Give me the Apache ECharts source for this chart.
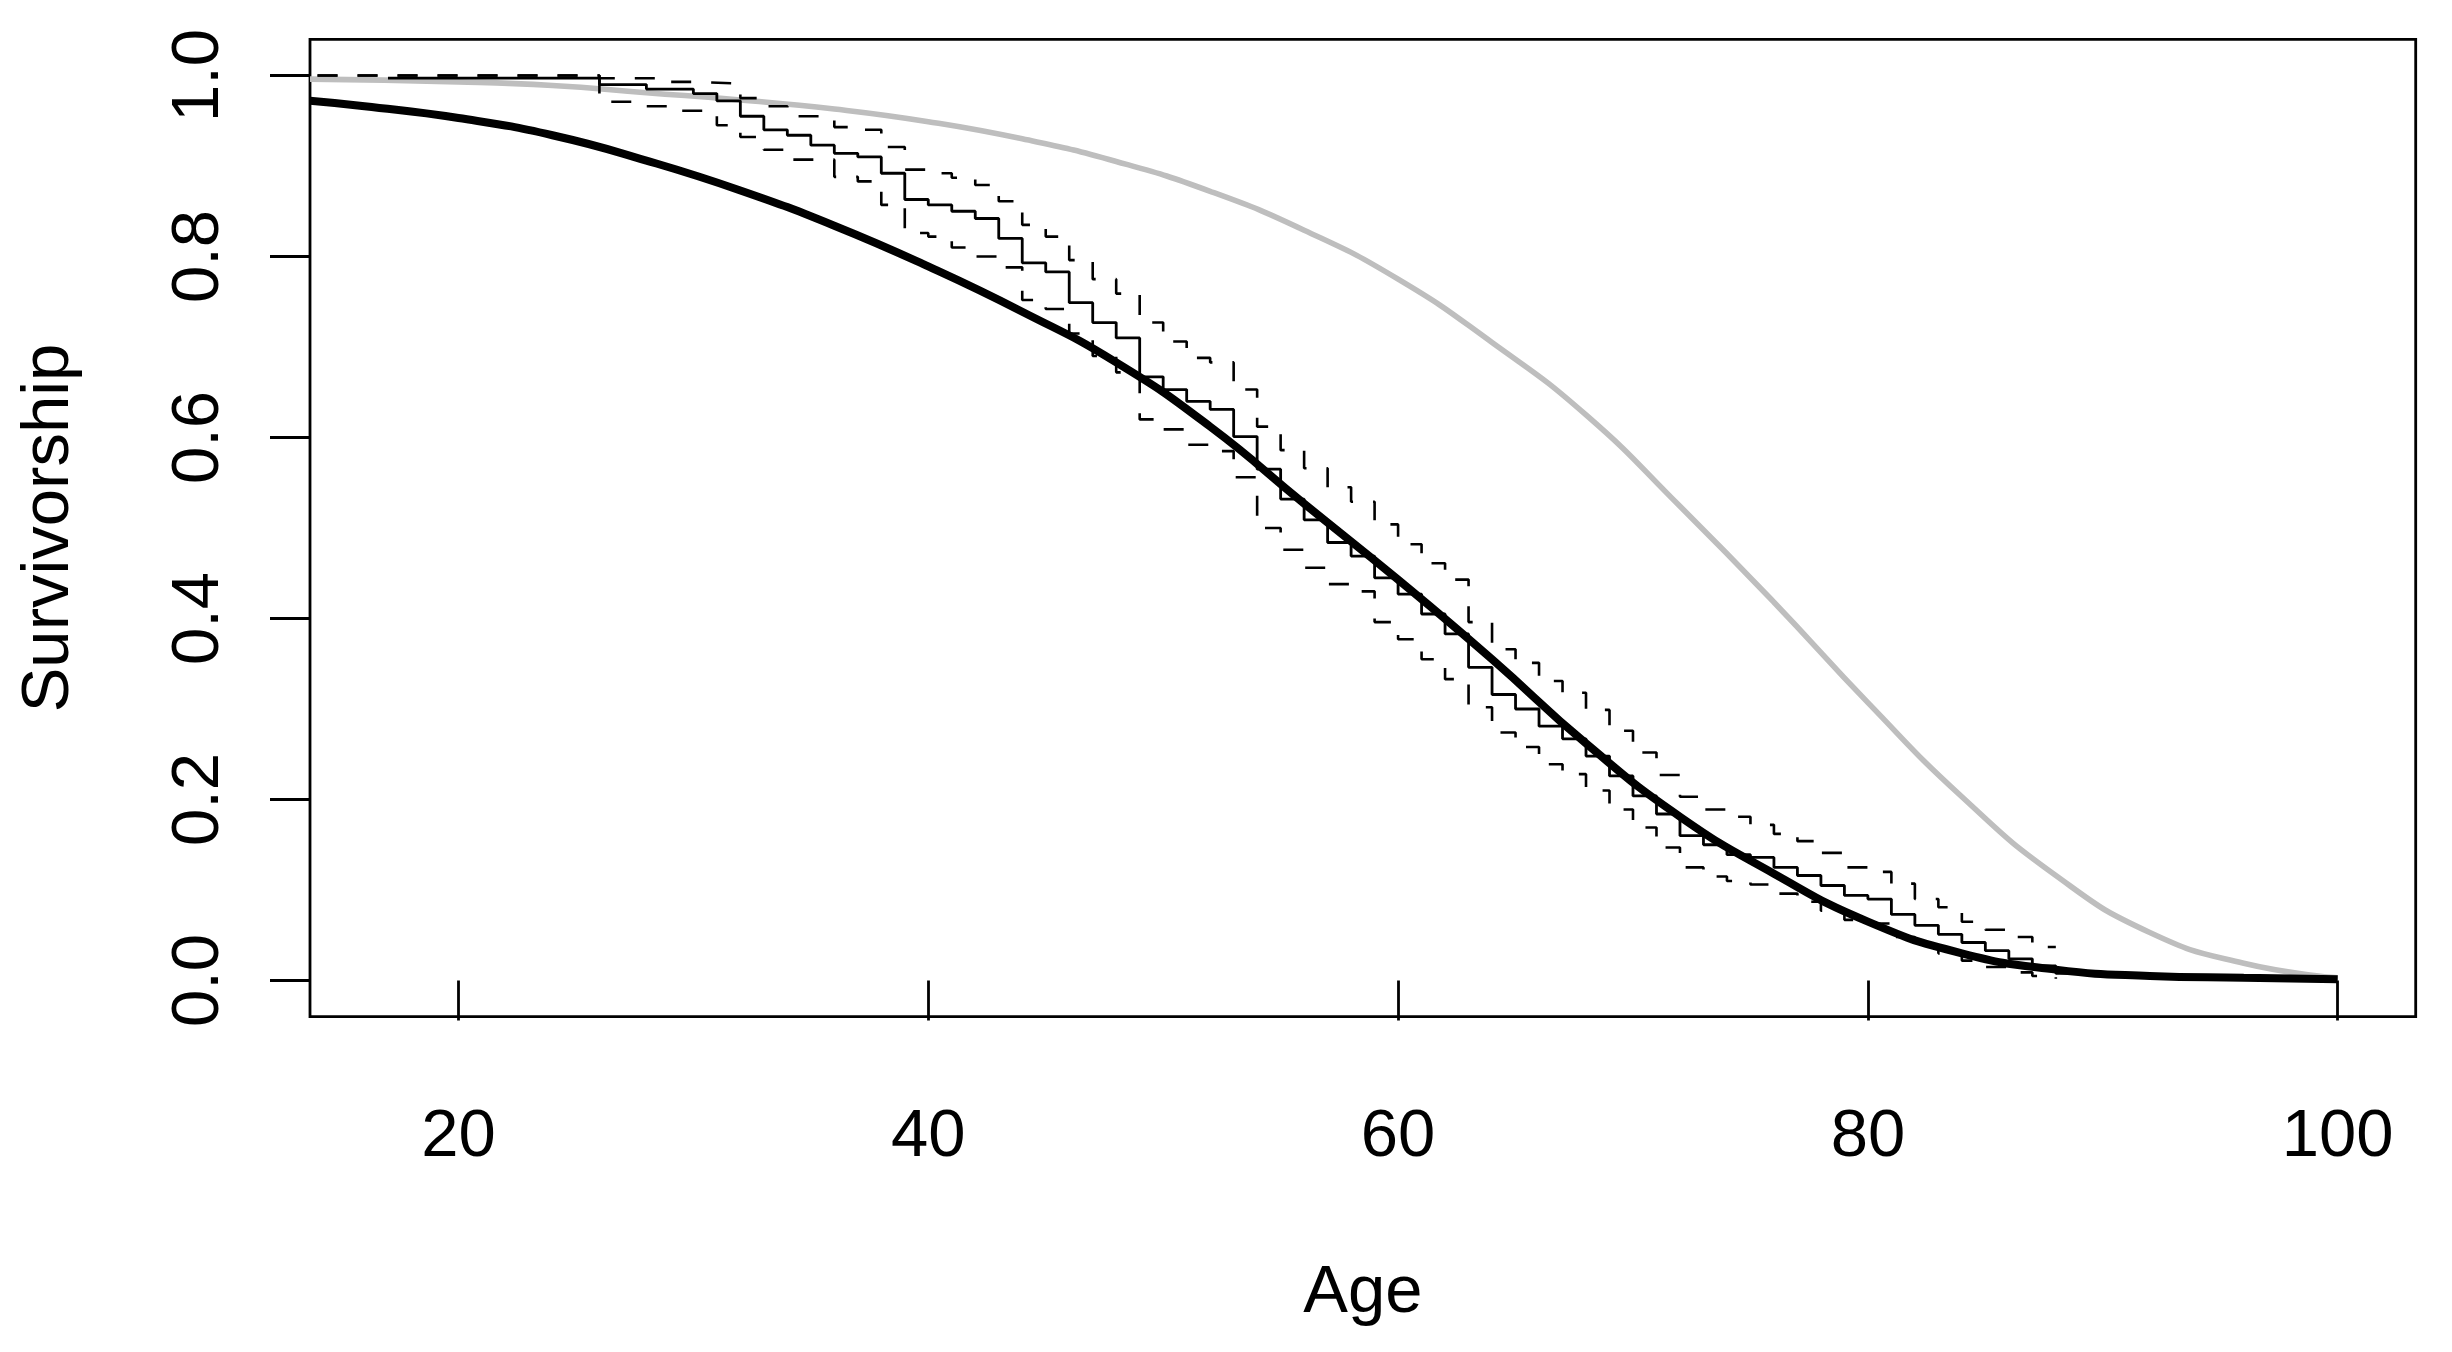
<!DOCTYPE html>
<html>
<head>
<meta charset="utf-8">
<script src="https://cdn.jsdelivr.net/npm/echarts@6/dist/echarts.min.js"></script>
<style>
html, body { margin: 0; padding: 0; background: #ffffff; }
#chart { width: 2452px; height: 1352px; }
</style>
</head>
<body>
<div id="chart"></div>
<script>
// Tick labels
const xTicks = [20, 40, 60, 80, 100];
const yTicks = [0, 0.2, 0.4, 0.6, 0.8, 1.0];

// Kaplan-Meier survivorship (step function)
const kmAge  = [17, 26, 28, 30, 31, 32, 33, 34, 35, 36, 37, 38, 39, 40, 41, 42, 43, 44, 45, 46, 47, 48, 49, 50,
                51, 52, 53, 54, 55, 56, 57, 58, 59, 60, 61, 62, 63, 64, 65, 66, 67, 68, 69, 70, 71, 72, 73, 74,
                75, 76, 77, 78, 79, 80, 81, 82, 83, 84, 85, 86, 87, 88, 89];
const kmSurv = [0.997, 0.990, 0.985, 0.980, 0.972, 0.955, 0.940, 0.934, 0.923, 0.914, 0.910, 0.892, 0.863, 0.857, 0.850, 0.842, 0.820, 0.793, 0.783, 0.749, 0.727, 0.710, 0.667, 0.653,
                0.640, 0.631, 0.601, 0.565, 0.532, 0.509, 0.484, 0.469, 0.445, 0.427, 0.405, 0.383, 0.346, 0.316, 0.300, 0.281, 0.267, 0.248, 0.226, 0.204, 0.184, 0.160, 0.150, 0.139,
                0.136, 0.125, 0.116, 0.105, 0.094, 0.090, 0.073, 0.061, 0.051, 0.042, 0.033, 0.024, 0.016, 0.008, 0.008];

// Upper confidence band
const upperAge  = [14, 26, 29, 30, 32, 33, 34, 36, 37, 38, 39, 40, 41, 42, 43, 44, 45, 46, 47, 48, 49, 50,
                   51, 52, 53, 54, 55, 56, 57, 58, 59, 60, 61, 62, 63, 64, 65, 66, 67, 68, 69, 70, 71, 72,
                   73, 74, 75, 76, 77, 78, 79, 80, 81, 82, 83, 84, 85, 86, 87, 88];
const upperSurv = [1.000, 0.997, 0.993, 0.991, 0.975, 0.966, 0.955, 0.943, 0.940, 0.921, 0.896, 0.892, 0.887, 0.879, 0.861, 0.835, 0.822, 0.796, 0.775, 0.759, 0.727, 0.706,
                   0.688, 0.683, 0.653, 0.612, 0.586, 0.566, 0.545, 0.529, 0.504, 0.482, 0.461, 0.443, 0.396, 0.366, 0.351, 0.331, 0.318, 0.299, 0.276, 0.252, 0.227, 0.203,
                   0.189, 0.181, 0.172, 0.162, 0.154, 0.141, 0.125, 0.120, 0.107, 0.090, 0.081, 0.065, 0.056, 0.048, 0.037, 0.037];

// Lower confidence band
const lowerAge  = [14, 26, 28, 29, 31, 32, 33, 34, 36, 37, 38, 39, 40, 41, 42, 43, 44, 45, 46, 47, 48, 49, 50,
                   51, 52, 53, 54, 55, 56, 57, 58, 59, 60, 61, 62, 63, 64, 65, 66, 67, 68, 69, 70, 71, 72,
                   73, 74, 75, 76, 77, 78, 79, 80, 81, 82, 83, 84, 85, 86, 87, 88];
const lowerSurv = [1.000, 0.971, 0.966, 0.961, 0.945, 0.932, 0.918, 0.907, 0.888, 0.883, 0.857, 0.826, 0.822, 0.810, 0.800, 0.788, 0.752, 0.742, 0.715, 0.690, 0.672, 0.620, 0.609,
                   0.592, 0.585, 0.556, 0.500, 0.476, 0.456, 0.438, 0.430, 0.396, 0.377, 0.355, 0.333, 0.302, 0.274, 0.258, 0.239, 0.228, 0.210, 0.189, 0.169, 0.147, 0.125,
                   0.115, 0.110, 0.106, 0.096, 0.087, 0.077, 0.067, 0.063, 0.048, 0.038, 0.030, 0.022, 0.015, 0.009, 0.005, 0.002];

// Fitted survivorship curve (thick black), read every 4 years
const fitAge  = [13.68, 16, 20, 24, 28, 32, 36, 40, 44, 48, 52, 56, 60, 64, 68, 72, 76, 80, 84, 88, 92, 96, 100];
const fitSurv = [0.972, 0.966, 0.953, 0.934, 0.906, 0.873, 0.834, 0.789, 0.739, 0.683, 0.612, 0.527, 0.443, 0.355, 0.262, 0.181, 0.118, 0.065, 0.030, 0.012, 0.005, 0.003, 0.0015];

// Reference survivorship curve (grey), read every 4 years
const refAge  = [13.68, 20, 24, 28, 32, 36, 40, 44, 48, 52, 56, 60, 64, 68, 72, 76, 80, 84, 88, 92, 96, 100];
const refSurv = [0.996, 0.993, 0.989, 0.981, 0.973, 0.963, 0.949, 0.930, 0.905, 0.872, 0.829, 0.775, 0.705, 0.625, 0.524, 0.418, 0.307, 0.203, 0.116, 0.053, 0.019, 0.003];

function pairs(a, b) { return a.map((v, i) => [v, b[i]]); }

const FONT = 'Liberation Sans, Arial, Helvetica, sans-serif';
const FS = 67;

const chart = echarts.init(document.getElementById('chart'), null, { renderer: 'canvas' });
chart.setOption({
  animation: false,
  backgroundColor: '#ffffff',
  grid: {
    left: 310, right: 36.3, top: 39.3, bottom: 335.3,
    show: true, borderColor: '#000000', borderWidth: 2.8, backgroundColor: 'transparent'
  },
  xAxis: {
    type: 'value', min: 13.68, max: 103.32,
    name: 'Age', nameLocation: 'middle', nameGap: 243,
    nameTextStyle: { fontFamily: FONT, fontSize: FS, color: '#000' },
    axisLine: { show: false },
    splitLine: { show: false },
    axisTick: { show: true, inside: false, length: 40, customValues: xTicks,
                lineStyle: { color: '#000', width: 2.8 } },
    axisLabel: { show: true, margin: 87, customValues: xTicks,
                 fontFamily: FONT, fontSize: FS, color: '#000' }
  },
  yAxis: {
    type: 'value', min: -0.04, max: 1.04,
    name: 'Survivorship', nameLocation: 'middle', nameGap: 227,
    nameTextStyle: { fontFamily: FONT, fontSize: FS, color: '#000' },
    axisLine: { show: false },
    splitLine: { show: false },
    axisTick: { show: true, inside: false, length: 40, customValues: yTicks,
                lineStyle: { color: '#000', width: 2.8 } },
    axisLabel: { show: true, margin: 77, rotate: 90, customValues: yTicks,
                 formatter: v => Number(v).toFixed(1),
                 fontFamily: FONT, fontSize: FS, color: '#000' }
  },
  series: [
    { name: 'reference', type: 'line', data: pairs(refAge, refSurv), showSymbol: false, smooth: 0.5,
      clip: true, lineStyle: { color: '#bebebe', width: 5.6 }, z: 2 },
    { name: 'upper', type: 'line', step: 'end', data: pairs(upperAge, upperSurv), showSymbol: false, clip: true,
      lineStyle: { color: '#000', width: 2.6, type: [20, 20] }, z: 3 },
    { name: 'lower', type: 'line', step: 'end', data: pairs(lowerAge, lowerSurv), showSymbol: false, clip: true,
      lineStyle: { color: '#000', width: 2.6, type: [20, 20] }, z: 3 },
    { name: 'km', type: 'line', step: 'end', data: pairs(kmAge, kmSurv), showSymbol: false, clip: true,
      lineStyle: { color: '#000', width: 2.8 }, z: 4 },
    { name: 'fit', type: 'line', data: pairs(fitAge, fitSurv), showSymbol: false, smooth: 0.5,
      clip: true, lineStyle: { color: '#000', width: 8 }, z: 5 }
  ]
});
</script>
</body>
</html>
